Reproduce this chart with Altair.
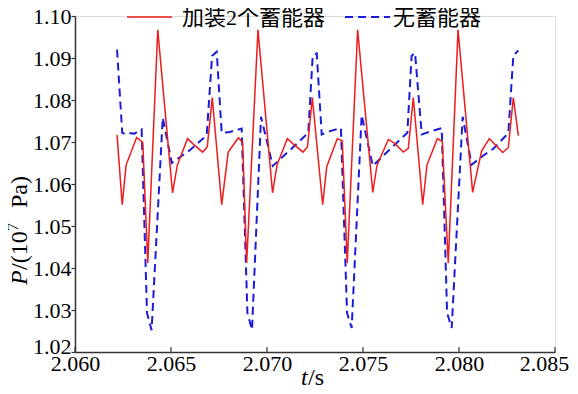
import altair as alt
import pandas as pd

# ---- data ----
t_red = [2.06219, 2.06246, 2.06266, 2.06321, 2.06353, 2.06379, 2.06431,
         2.06508, 2.06533, 2.06586, 2.06616, 2.06665, 2.06689, 2.06715, 2.06764, 2.06798, 2.06851, 2.06873, 2.06894, 2.06953,
         2.07029, 2.07052, 2.07106, 2.07135, 2.07188, 2.07211, 2.07236, 2.07290, 2.07311, 2.07366, 2.07392, 2.07418, 2.07472,
         2.07551, 2.07573, 2.07632, 2.07667, 2.07710, 2.07736, 2.07762, 2.07811, 2.07833, 2.07887, 2.07913, 2.07944, 2.07995,
         2.08071, 2.08118, 2.08158, 2.08228, 2.08257, 2.08283, 2.08309]
p_red = [1.0717, 1.0551, 1.0645, 1.0711, 1.0699, 1.0412, 1.0967,
         1.0579, 1.0645, 1.0708, 1.0695, 1.0676, 1.0689, 1.0806, 1.0551, 1.0676, 1.0710, 1.0699, 1.0412, 1.0967,
         1.0579, 1.0645, 1.0708, 1.0696, 1.0676, 1.0689, 1.0806, 1.0551, 1.0641, 1.0708, 1.0703, 1.0412, 1.0967,
         1.0580, 1.0645, 1.0706, 1.0696, 1.0676, 1.0685, 1.0806, 1.0551, 1.0645, 1.0708, 1.0701, 1.0412, 1.0967,
         1.0580, 1.0679, 1.0708, 1.0675, 1.0687, 1.0806, 1.0715]

t_blue = [2.06219, 2.06246, 2.06264, 2.06286, 2.06309, 2.06347, 2.06375, 2.06399,
          2.06457, 2.06504, 2.06599, 2.06686, 2.06714, 2.06738, 2.06764, 2.06807, 2.06868, 2.06898, 2.06922,
          2.06969, 2.07030, 2.07137, 2.07215, 2.07238, 2.07259, 2.07285, 2.07328, 2.07385, 2.07417, 2.07441,
          2.07493, 2.07551, 2.07641, 2.07731, 2.07753, 2.07771, 2.07806, 2.07858, 2.07910, 2.07938, 2.07962,
          2.08019, 2.08066, 2.08127, 2.08179, 2.08240, 2.08257, 2.08283, 2.08309]
p_blue = [1.0920, 1.0722, 1.0718, 1.0721, 1.0720, 1.0730, 1.0293, 1.0252,
          1.0758, 1.0650, 1.0681, 1.0716, 1.0905, 1.0915, 1.0722, 1.0724, 1.0732, 1.0293, 1.0253,
          1.0760, 1.0643, 1.0688, 1.0722, 1.0905, 1.0911, 1.0718, 1.0726, 1.0733, 1.0293, 1.0257,
          1.0764, 1.0643, 1.0683, 1.0722, 1.0905, 1.0912, 1.0718, 1.0726, 1.0733, 1.0293, 1.0257,
          1.0760, 1.0646, 1.0668, 1.0684, 1.0713, 1.0722, 1.0906, 1.0918]

x_ticks = [2.060, 2.065, 2.070, 2.075, 2.080, 2.085]
y_ticks = [1.02, 1.03, 1.04, 1.05, 1.06, 1.07, 1.08, 1.09, 1.10]
series_names = ["加装2个蓄能器", "无蓄能器"]

W, H = 480, 336
SERIF = "Liberation Serif"
LEG_FONT = "Liberation Serif, Noto Sans CJK SC"
RED = "#ee1c1c"
BLUE = "#1c1cd8"
AX = "#333333"

xs = alt.Scale(domain=[2.060, 2.085], nice=False, zero=False)
ys = alt.Scale(domain=[1.02, 1.10], nice=False, zero=False)

df_red = pd.DataFrame({"t": t_red, "p": p_red})
df_blue = pd.DataFrame({"t": t_blue, "p": p_blue})

xaxis = alt.Axis(values=x_ticks, format=".3f", title=None, ticks=False,
                 labelPadding=1,
                 labelOffset={"condition": {"test": "datum.value > 2.0845", "value": -11}, "value": 0})
yaxis = alt.Axis(values=y_ticks, format=".2f", title=None, ticks=True, tickSize=4,
                 labelPadding=0,
                 labelOffset={"condition": {"test": "datum.value < 1.0205", "value": -6}, "value": 0})

blue_line = alt.Chart(df_blue).mark_line(color=BLUE, strokeWidth=2, strokeDash=[8, 5]).encode(
    x=alt.X("t:Q", scale=xs, axis=xaxis),
    y=alt.Y("p:Q", scale=ys, axis=yaxis),
    order="t:Q",
)
red_line = alt.Chart(df_red).mark_line(color=RED, strokeWidth=1.5).encode(
    x=alt.X("t:Q", scale=xs, axis=xaxis),
    y=alt.Y("p:Q", scale=ys, axis=yaxis),
    order="t:Q",
)

# inward ticks on the x axis
xtick = alt.Chart(pd.DataFrame({"t": x_ticks})).mark_rule(color=AX, strokeWidth=1.2).encode(
    x=alt.X("t:Q", scale=xs, axis=xaxis), y=alt.value(H), y2=alt.value(H - 5)
)

# legend
leg_red = alt.Chart(pd.DataFrame({"a": [0]})).mark_rule(color=RED, strokeWidth=1.5).encode(
    x=alt.value(52), x2=alt.value(97), y=alt.value(1))
leg_blue = alt.Chart(pd.DataFrame({"a": [0]})).mark_rule(color=BLUE, strokeWidth=2, strokeDash=[8, 5]).encode(
    x=alt.value(270), x2=alt.value(315), y=alt.value(1))
leg_txt1 = alt.Chart(pd.DataFrame({"s": [series_names[0]]})).mark_text(
    font=LEG_FONT, fontSize=22, align="left", baseline="middle", color="black").encode(
    text="s:N", x=alt.value(107), y=alt.value(2))
leg_txt2 = alt.Chart(pd.DataFrame({"s": [series_names[1]]})).mark_text(
    font=LEG_FONT, fontSize=22, align="left", baseline="middle", color="black").encode(
    text="s:N", x=alt.value(318), y=alt.value(2))


def vtext(s, y, x=-55, size=24, style="normal"):
    return alt.Chart(pd.DataFrame({"s": [s]})).mark_text(
        font=SERIF, fontSize=size, fontStyle=style, angle=270, align="left",
        baseline="middle", color="black").encode(text="s:N", x=alt.value(x), y=alt.value(y))


# y axis title: P/(10^7 Pa)
ytitle = [
    vtext("P", 269, style="italic"),
    vtext("/(10", 254),
    vtext("7", 215, x=-62, size=16),
    vtext("Pa)", 192),
]

xtitle_t = alt.Chart(pd.DataFrame({"s": ["t"]})).mark_text(
    font=SERIF, fontSize=24, fontStyle="italic", align="left", baseline="middle", color="black").encode(
    text="s:N", x=alt.value(226), y=alt.value(362))
xtitle_r = alt.Chart(pd.DataFrame({"s": ["/s"]})).mark_text(
    font=SERIF, fontSize=24, align="left", baseline="middle", color="black").encode(
    text="s:N", x=alt.value(233), y=alt.value(362))

chart = alt.layer(
    blue_line, red_line, xtick, leg_red, leg_blue, leg_txt1, leg_txt2,
    *ytitle, xtitle_t, xtitle_r
).properties(
    width=W, height=H,
    autosize=alt.AutoSizeParams(type="none"),
    padding={"left": 67, "top": 8, "right": 15, "bottom": 34},
).configure_view(stroke=None).configure(background="white").configure_axis(
    labelFont=SERIF, labelFontSize=22, labelColor="black", labelFlush=False,
    grid=False, domainColor=AX, domainWidth=1.5, tickColor=AX, tickWidth=1.2,
)

chart.save("out.html", embed_options={"renderer": "svg", "actions": False})
